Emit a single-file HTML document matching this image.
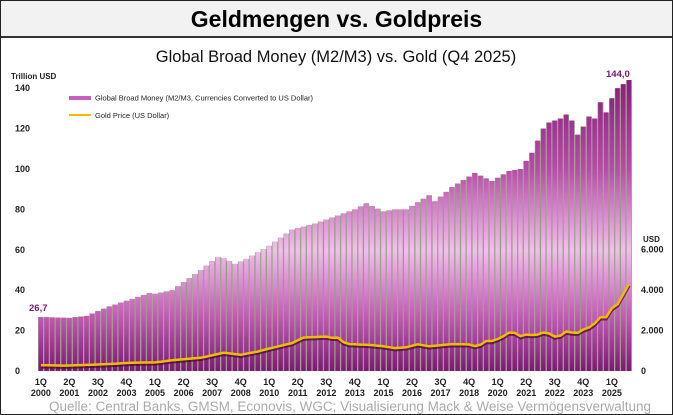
<!DOCTYPE html>
<html><head><meta charset="utf-8"><style>
body{margin:0;background:#fff;}
#w{position:relative;width:671px;height:413px;border:1px solid #222;overflow:hidden;font-family:"Liberation Sans",sans-serif;}
#hd{position:absolute;left:0;top:0;width:671px;height:35px;background:#f2f2f2;border-bottom:2px solid #333;text-align:center;font-weight:bold;font-size:23px;line-height:36px;color:#000;}
</style></head><body><div id="w"><div id="hd">Geldmengen vs. Goldpreis</div>
<svg id="s" width="671" height="413" style="position:absolute;left:0;top:0"></svg></div>
<script>
function interp(kp){var ks=Object.keys(kp).map(Number).sort(function(a,b){return a-b}),r=[];for(var i=0;i<104;i++){for(var j=0;j<ks.length-1;j++){if(i>=ks[j]&&i<=ks[j+1]){var t=(i-ks[j])/(ks[j+1]-ks[j]);r.push(kp[ks[j]]+(kp[ks[j+1]]-kp[ks[j]])*t);break;}}}return r;}
var m=interp({0:26.7,5:26.3,8:27.3,12:32,16:35.7,19:38.6,20:38.2,23:40,24:42,28:50,31:56.5,32:56,34:53,36:55.5,40:62,44:70,48:73,52:77,55:80,57:83,60:79,62:80,64:80,68:87,69:84,72:91,76:98,79:94,82:99,84:100,86:108,88:120,89:123,91:125,92:127,93:124,94:117,95:121,96:126,97:125,98:133,99:128,100:135,101:140,102:142,103:144});
var g=interp({0:285,4:265,8:300,12:345,16:410,20:425,24:560,28:650,32:900,35:800,38:960,40:1110,44:1380,46:1650,50:1700,51:1640,52:1650,53:1420,54:1330,58:1280,60:1220,62:1130,64:1170,66:1320,68:1220,72:1330,75:1310,76:1230,77:1300,78:1480,79:1480,80:1580,81:1720,82:1900,83:1880,84:1720,85:1800,86:1780,87:1800,88:1900,89:1850,90:1700,91:1750,92:1950,93:1900,94:1880,95:2050,96:2150,97:2350,98:2650,99:2650,100:3100,101:3300,102:3800,103:4300});
var x0=37,bw=5.71,y0=370,k=2.02,kg=40.5/2000;
var h='<defs><linearGradient id="bg" gradientUnits="userSpaceOnUse" x1="0" y1="80" x2="0" y2="372"><stop offset="0" stop-color="#8a1d7c"/><stop offset="0.3" stop-color="#b84aa8"/><stop offset="0.58" stop-color="#f0c0ea"/><stop offset="0.8" stop-color="#c65cb8"/><stop offset="1" stop-color="#7a1670"/></linearGradient></defs>';
h+='<text x="335" y="61" font-size="16.5" text-anchor="middle" fill="#111">Global Broad Money (M2/M3) vs. Gold (Q4 2025)</text>';
h+='<text x="10" y="78" font-size="8" font-weight="bold" fill="#222">Trillion USD</text>';
for(var v=0;v<=140;v+=20){var y=y0-v*k;h+='<text x="14" y="'+(y+3)+'" font-size="9" font-weight="bold" fill="#222">'+v+'</text>';}
h+='<text x="642" y="241" font-size="8" font-weight="bold" fill="#222">USD</text>';
for(var v=0;v<=6000;v+=2000){var y=y0-v*kg;h+='<text x="640" y="'+(y+3)+'" font-size="9" font-weight="bold" fill="#222">'+(v?(v/1000)+'.000':'0')+'</text>';}
for(var i=0;i<104;i++){var x=x0+i*bw,hh=m[i]*k;h+='<rect x="'+x.toFixed(2)+'" y="'+(y0-hh).toFixed(1)+'" width="'+(bw+0.05)+'" height="'+hh.toFixed(1)+'" fill="#9a9a8a"/><rect x="'+(x+0.6).toFixed(2)+'" y="'+(y0-hh).toFixed(1)+'" width="'+(bw-1.3)+'" height="'+hh.toFixed(1)+'" fill="url(#bg)"/>';}
var p='';for(var i=0;i<104;i++){p+=(i?'L':'M')+(x0+(i+0.5)*bw).toFixed(1)+' '+(y0-g[i]*kg).toFixed(1);}
h+='<path d="'+p+'" transform="translate(0,1.5)" stroke="#3a0a30" stroke-width="3.5" fill="none" opacity="0.7"/>';
h+='<path d="'+p+'" stroke="#f6b800" stroke-width="2.5" fill="none" stroke-linejoin="round"/>';
h+='<rect x="68" y="95" width="22" height="4" fill="#c85ec0"/><text x="94" y="99.5" font-size="7.5" fill="#222">Global Broad Money (M2/M3, Currencies Converted to US Dollar)</text>';
h+='<line x1="68" y1="114" x2="90" y2="114" stroke="#f6b800" stroke-width="2"/><text x="94" y="117" font-size="7.5" fill="#222">Gold Price (US Dollar)</text>';
h+='<text x="28" y="310" font-size="9.5" font-weight="bold" fill="#7a1a6a">26,7</text>';
h+='<text x="605" y="76" font-size="9.5" font-weight="bold" fill="#7a1a6a">144,0</text>';
var q=['1Q','2Q','3Q','4Q'];
for(var i=0;i<104;i+=5){var x=x0+(i+0.5)*bw,yr=2000+Math.floor(i/4);h+='<text x="'+x+'" y="384" font-size="9" font-weight="bold" text-anchor="middle" fill="#222">'+q[i%4]+'</text><text x="'+x+'" y="395" font-size="9" font-weight="bold" text-anchor="middle" fill="#222">'+yr+'</text>';}
h+='<text x="48" y="410" font-size="13.5" fill="#aaa">Quelle: Central Banks, GMSM, Econovis, WGC; Visualisierung Mack &amp; Weise Vermögensverwaltung</text>';
document.getElementById('s').innerHTML=h;
</script></body></html>
